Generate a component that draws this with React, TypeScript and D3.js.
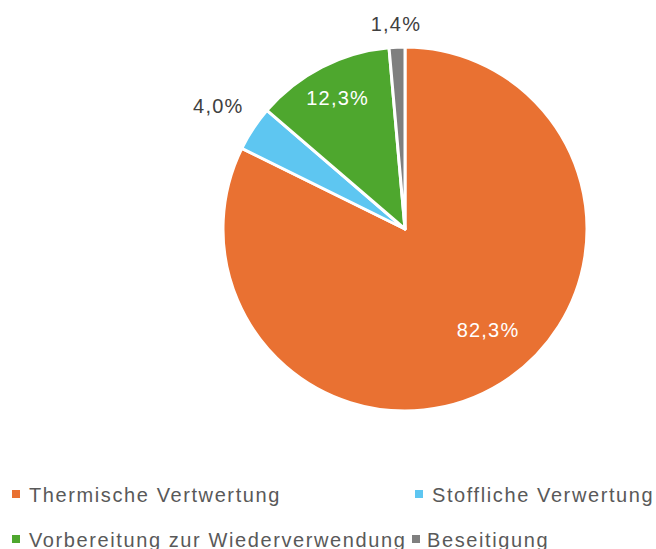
import React, { useEffect, useRef } from "react";
import * as d3 from "d3";

const width = 656;
const height = 549;

const categories = [
  "Thermische Vertwertung",
  "Stoffliche Verwertung",
  "Vorbereitung zur Wiederverwendung",
  "Beseitigung",
];
const values = [82.3, 4.0, 12.3, 1.4];
const labels = ["82,3%", "4,0%", "12,3%", "1,4%"];
const colors = ["#E97132", "#5EC6F1", "#4EA72E", "#7F7F7F"];

const font = "Liberation Sans, Arial, sans-serif";

export default function App() {
  const ref = useRef<SVGSVGElement>(null);

  useEffect(() => {
    const svg = d3.select(ref.current);
    svg.selectAll("*").remove();

    const cx = 405;
    const cy = 229;
    const r = 182;

    const pie = d3
      .pie<number>()
      .sort(null)
      .value((d) => d);
    const arcs = pie(values);
    const arc = d3.arc<d3.PieArcDatum<number>>().innerRadius(0).outerRadius(r);

    const g = svg.append("g").attr("transform", `translate(${cx},${cy})`);

    g.selectAll("path")
      .data(arcs)
      .enter()
      .append("path")
      .attr("d", arc)
      .attr("fill", (d, i) => colors[i])
      .attr("stroke", "#fff")
      .attr("stroke-width", 3)
      .attr("stroke-linejoin", "round");

    // label radius as a fraction of r (inside for big slices, outside for small)
    const labelR = [0.72, 1.23, 0.81, 1.13];
    const labelShift = [-0.13, 0, 0, 0]; // small angle nudge (radians), best-fit like
    const insideSet = [true, false, true, false];

    g.selectAll("text.lbl")
      .data(arcs)
      .enter()
      .append("text")
      .attr("class", "lbl")
      .attr("transform", (d, i) => {
        const a = (d.startAngle + d.endAngle) / 2 + labelShift[i];
        const rr = r * labelR[i];
        return `translate(${Math.sin(a) * rr},${-Math.cos(a) * rr})`;
      })
      .attr("text-anchor", "middle")
      .attr("dominant-baseline", "central")
      .attr("font-family", font)
      .attr("font-size", 20)
      .attr("letter-spacing", 1.2)
      .attr("fill", (d, i) => (insideSet[i] ? "#fff" : "#404040"))
      .text((d, i) => labels[i]);

    // legend
    const legendPos = [
      [12, 494, 17],
      [415, 494, 17],
      [12, 539, 17],
      [412, 539, 15],
    ];
    const lg = svg
      .selectAll("g.leg")
      .data(categories)
      .enter()
      .append("g")
      .attr("class", "leg")
      .attr("transform", (d, i) => `translate(${legendPos[i][0]},${legendPos[i][1]})`);
    lg.append("rect")
      .attr("x", 0)
      .attr("y", -4)
      .attr("width", 8)
      .attr("height", 8)
      .attr("fill", (d, i) => colors[i]);
    lg.append("text")
      .attr("x", (d, i) => legendPos[i][2])
      .attr("y", 1)
      .attr("dominant-baseline", "central")
      .attr("font-family", font)
      .attr("font-size", 20)
      .attr("letter-spacing", 1.6)
      .attr("fill", "#595959")
      .text((d) => d);
  }, []);

  return (
    <svg
      ref={ref}
      width={width}
      height={height}
      style={{ position: "absolute", left: 0, top: 0, background: "#fff" }}
    />
  );
}
